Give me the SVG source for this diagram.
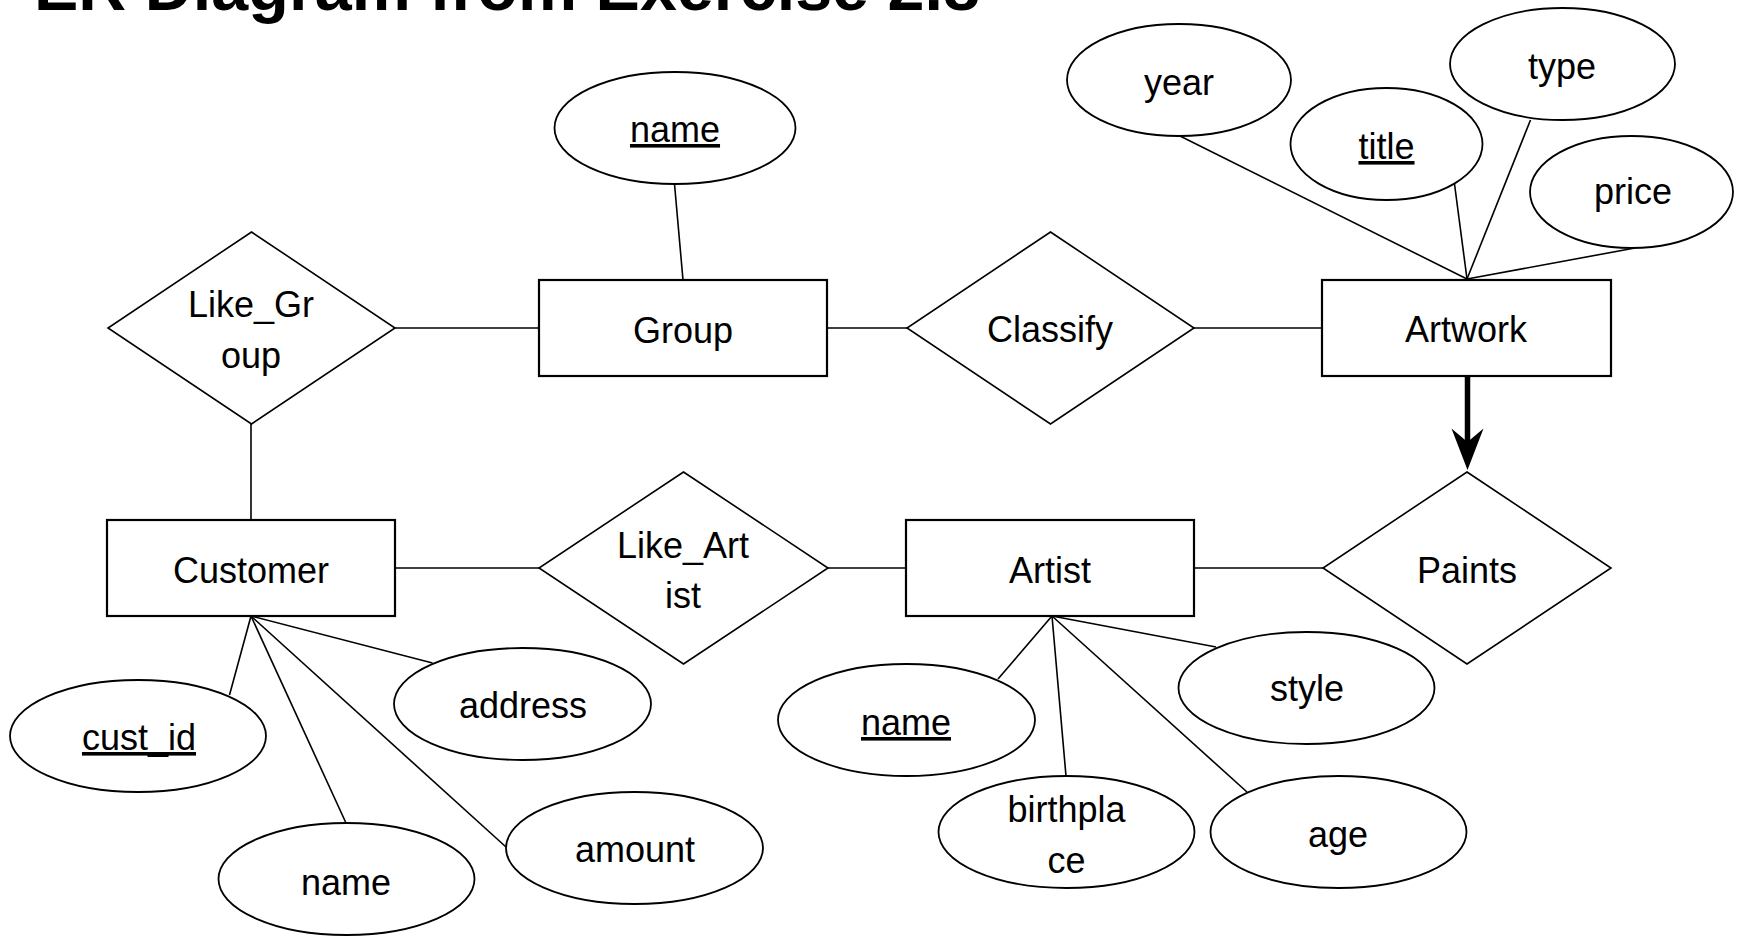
<svg xmlns="http://www.w3.org/2000/svg" width="1747" height="936" viewBox="0 0 1747 936">
<style>
.ent{fill:#fff;stroke:#000;stroke-width:2.2}
.rel{fill:#fff;stroke:#000;stroke-width:1.6}
.att{fill:#fff;stroke:#000;stroke-width:1.8}
.ln{stroke:#000;stroke-width:1.6;fill:none}
.t{font-family:"Liberation Sans",Arial,sans-serif;font-size:36px;fill:#000;text-anchor:middle}
.key{text-decoration:underline}
.title{font-family:"Liberation Sans",Arial,sans-serif;font-size:66px;font-weight:bold;fill:#000}
</style>
<rect width="1747" height="936" fill="#fff"/>
<text class="title" x="34" y="10" textLength="946" lengthAdjust="spacingAndGlyphs">ER Diagram from Exercise 2.8</text>
<g id="connectors">
<line class="ln" x1="674.5" y1="184" x2="683" y2="280"/>
<line class="ln" x1="395" y1="328" x2="539" y2="328"/>
<line class="ln" x1="827" y1="328" x2="907" y2="328"/>
<line class="ln" x1="1194" y1="328" x2="1322" y2="328"/>
<line class="ln" x1="251" y1="424" x2="251" y2="520"/>
<line class="ln" x1="395" y1="568" x2="539" y2="568"/>
<line class="ln" x1="828" y1="568" x2="906" y2="568"/>
<line class="ln" x1="1194" y1="568" x2="1323" y2="568"/>
<line class="ln" x1="1180" y1="136" x2="1467" y2="279"/>
<line class="ln" x1="1454.5" y1="184" x2="1467" y2="279"/>
<line class="ln" x1="1530.5" y1="120" x2="1467" y2="279"/>
<line class="ln" x1="1635" y1="248" x2="1467" y2="279"/>
<line class="ln" x1="229.5" y1="695" x2="251" y2="616"/>
<line class="ln" x1="346" y1="823" x2="251" y2="616"/>
<line class="ln" x1="506" y1="847" x2="251" y2="616"/>
<line class="ln" x1="432.5" y1="663" x2="251" y2="616"/>
<line class="ln" x1="998" y1="679" x2="1052" y2="616"/>
<line class="ln" x1="1066" y1="776" x2="1052" y2="616"/>
<line class="ln" x1="1247" y1="792" x2="1052" y2="616"/>
<line class="ln" x1="1216" y1="647" x2="1052" y2="616"/>
<line x1="1467.5" y1="376" x2="1467.5" y2="445" stroke="#000" stroke-width="5.5"/>
<polygon points="1467.5,470 1451.5,428.5 1467.5,442 1483.5,428.5" fill="#000"/>
</g>
<g id="group-name"><ellipse class="att" cx="675" cy="128" rx="120.5" ry="56"/><text class="t key" x="675" y="142">name</text></g>
<g id="group"><rect class="ent" x="539" y="280" width="288" height="96"/><text class="t" x="683" y="343">Group</text></g>
<g id="artwork"><rect class="ent" x="1322" y="280" width="289" height="96"/><text class="t" x="1466" y="342">Artwork</text></g>
<g id="customer"><rect class="ent" x="107" y="520" width="288" height="96"/><text class="t" x="251" y="583">Customer</text></g>
<g id="artist"><rect class="ent" x="906" y="520" width="288" height="96"/><text class="t" x="1050" y="583">Artist</text></g>
<g id="like-group"><polygon class="rel" points="251.5,232 395,328 251.5,424 108,328"/><text class="t" x="251" y="317">Like_Gr</text><text class="t" x="251" y="368">oup</text></g>
<g id="classify"><polygon class="rel" points="1050.5,232 1194,328 1050.5,424 907,328"/><text class="t" x="1050" y="342">Classify</text></g>
<g id="like-artist"><polygon class="rel" points="683.5,472 828,568 683.5,664 539,568"/><text class="t" x="683" y="558">Like_Art</text><text class="t" x="683" y="608">ist</text></g>
<g id="paints"><polygon class="rel" points="1467,472 1611,568 1467,664 1323,568"/><text class="t" x="1467" y="583">Paints</text></g>
<g id="year"><ellipse class="att" cx="1179" cy="80" rx="112" ry="56"/><text class="t" x="1179" y="95">year</text></g>
<g id="title"><ellipse class="att" cx="1386.5" cy="144" rx="96" ry="56"/><text class="t key" x="1386.5" y="159">title</text></g>
<g id="type"><ellipse class="att" cx="1562.5" cy="64" rx="112.5" ry="56"/><text class="t" x="1562" y="79">type</text></g>
<g id="price"><ellipse class="att" cx="1631.5" cy="192" rx="101.5" ry="56"/><text class="t" x="1633" y="204">price</text></g>
<g id="cust-id"><ellipse class="att" cx="138" cy="736" rx="128" ry="56"/><text class="t key" x="139" y="750">cust_id</text></g>
<g id="address"><ellipse class="att" cx="522.5" cy="704" rx="128.5" ry="56"/><text class="t" x="523" y="718">address</text></g>
<g id="customer-name"><ellipse class="att" cx="346.5" cy="879" rx="128" ry="56"/><text class="t" x="346" y="895">name</text></g>
<g id="amount"><ellipse class="att" cx="634.5" cy="848" rx="128.5" ry="56"/><text class="t" x="635" y="862">amount</text></g>
<g id="artist-name"><ellipse class="att" cx="906.5" cy="720" rx="128.5" ry="56"/><text class="t key" x="906" y="735">name</text></g>
<g id="birthplace"><ellipse class="att" cx="1066.5" cy="832" rx="128" ry="56"/><text class="t" x="1066.5" y="822">birthpla</text><text class="t" x="1066.5" y="873">ce</text></g>
<g id="style"><ellipse class="att" cx="1306.5" cy="688" rx="128" ry="56"/><text class="t" x="1307" y="701">style</text></g>
<g id="age"><ellipse class="att" cx="1338.5" cy="832" rx="128" ry="56"/><text class="t" x="1338" y="847">age</text></g>
</svg>
